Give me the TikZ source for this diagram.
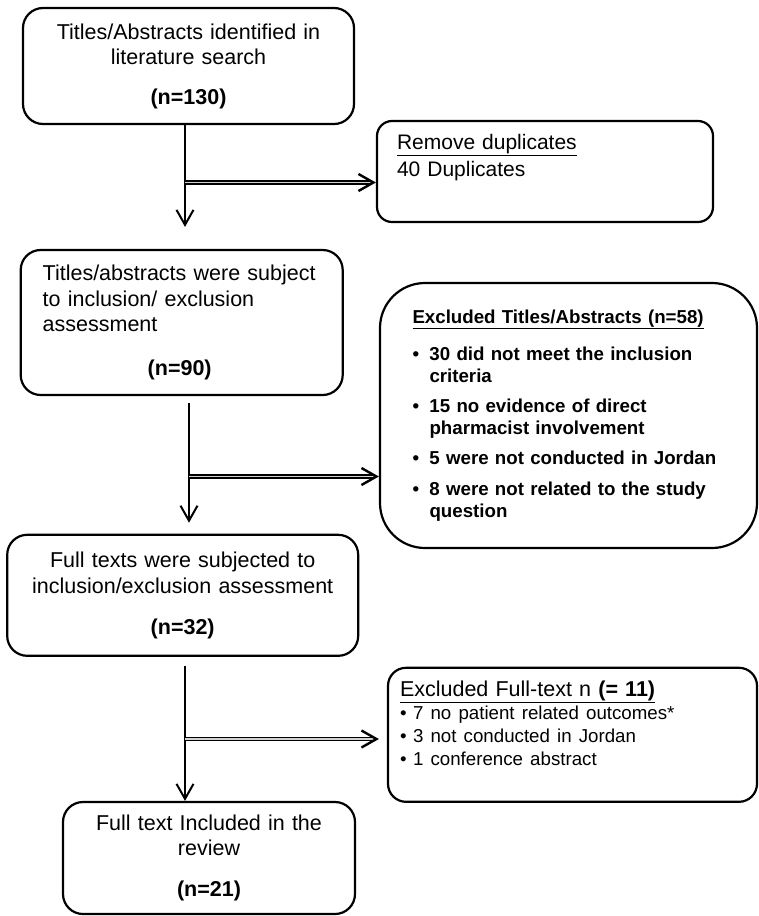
\documentclass[tikz,border=0pt]{standalone}
\usepackage{fontspec}
\setmainfont{Liberation Sans}
\usetikzlibrary{arrows.meta}
\newcommand{\bul}[1]{\makebox[#1][l]{\textbullet}}
\tikzset{
    stage/.style={draw=black, line width=2.2pt, rounded corners=20pt, inner sep=0pt, font=\fontsize{21.5}{25.5}\selectfont},
    exclbox/.style={draw=black, line width=2.2pt, inner sep=0pt, align=left},
    downflow/.style={line width=2pt, -{Straight Barb[length=15pt,width=17pt]}},
    sideflow/.style={double=gray!35, double distance=1.3pt, line width=1.4pt, -{Straight Barb[length=15pt,width=17pt,line width=2.4pt]}}
}
\begin{document}
\begin{tikzpicture}[x=1pt, y=-1pt]
    \useasboundingbox (0,0) rectangle (758,916);
    % main stages
    \node[stage, minimum width=331pt, minimum height=116pt, text width=310pt, align=center] (ident) at (188.5,66)
        {Titles/Abstracts identified in\\literature search\\[14pt]\textbf{(n=130)}};
    \node[stage, minimum width=322pt, minimum height=145pt, text width=278pt, align=left] (screen) at (181.7,322.5)
        {Titles/abstracts were subject\\to inclusion/ exclusion\\assessment\\[18.5pt]\makebox[274pt]{\textbf{(n=90)}}};
    \node[stage, minimum width=351pt, minimum height=121pt, text width=330pt, align=center] (full) at (182.7,595.3)
        {Full texts were subjected to\\inclusion/exclusion assessment\\[15.7pt]\textbf{(n=32)}};
    \node[stage, minimum width=292pt, minimum height=112pt, text width=270pt, align=center] (incl) at (209,858)
        {Full text Included in the\\review\\[15.6pt]\textbf{(n=21)}};
    % exclusions
    \node[stage, rounded corners=15pt, minimum width=336pt, minimum height=101pt, text width=296pt, align=left,
        font=\fontsize{21}{26.5}\selectfont] (dup) at (545,171.5)
        {\underline{Remove duplicates}\\40 Duplicates\\[5.5pt]\mbox{}};
    \node[exclbox, rounded corners=45pt, minimum width=377pt, minimum height=265pt, text width=312pt,
        font=\bfseries\fontsize{18.7}{22}\selectfont] (exta) at (568.5,415.5)
        {\underline{Excluded Titles/Abstracts (n=58)}\\[15pt]
         \bul{17pt}30 did not meet the inclusion\\\hspace*{17pt}criteria\\[8pt]
         \bul{17pt}15 no evidence of direct\\\hspace*{17pt}pharmacist involvement\\[8pt]
         \bul{17pt}5 were not conducted in Jordan\\[9pt]
         \bul{17pt}8 were not related to the study\\\hspace*{17pt}question};
    \node[exclbox, rounded corners=18pt, minimum width=369pt, minimum height=134pt, text width=345pt,
        font=\fontsize{21.5}{23}\selectfont] (exft) at (572.5,734.8)
        {\underline{Excluded Full-text n \textbf{(= 11)}}\\\fontsize{18.7}{23}\selectfont
         \bul{13pt}7 no patient related outcomes*\\
         \bul{13pt}3 not conducted in Jordan\\
         \bul{13pt}1 conference abstract\\\mbox{}};
    % junctions
    \coordinate (j1) at (185,182.5);
    \coordinate (j2) at (189,476.5);
    \coordinate (j3) at (185,739);
    \draw[downflow, shorten >=22pt] (j1 |- ident.south) -- (j1 |- screen.north);
    \draw[downflow, shorten <=7pt, shorten >=11pt] (j2 |- screen.south) -- (j2 |- full.north);
    \draw[downflow, shorten <=9pt] (j3 |- full.south) -- (j3 |- incl.north);
    \draw[sideflow] (j1) -- (j1 -| dup.west);
    \draw[sideflow] (j2) -- (j2 -| exta.west);
    \draw[sideflow, shorten >=8pt] (j3) -- (j3 -| exft.west);
\end{tikzpicture}
\end{document}
